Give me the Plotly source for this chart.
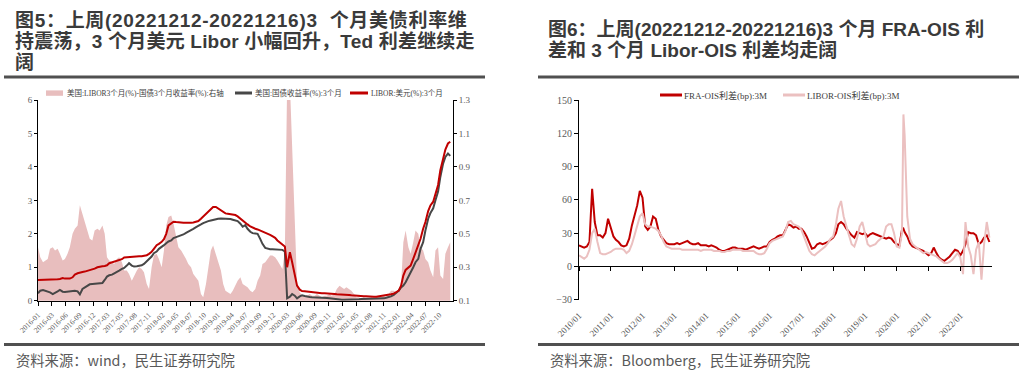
import plotly.graph_objects as go
import pandas as pd

W, H = 1027, 375

# ---------------- Chart 1 data (semi-monthly, 2016-01 .. 2022-12) ----------------
dates1 = pd.date_range("2016-01-01", periods=168, freq="SMS")

spread_ted = [
    0.42, 0.36, 0.33, 0.34, 0.35, 0.41, 0.42, 0.40, 0.41, 0.38, 0.34, 0.35,
    0.38, 0.42, 0.50, 0.53, 0.55, 0.67, 0.62, 0.58, 0.52, 0.47, 0.46, 0.52,
    0.53, 0.52, 0.55, 0.50, 0.36, 0.34, 0.33, 0.32, 0.35, 0.36, 0.33, 0.28,
    0.28, 0.26, 0.22, 0.25, 0.28, 0.30, 0.29, 0.27, 0.20, 0.17, 0.30, 0.37,
    0.38, 0.35, 0.30, 0.40, 0.55, 0.60, 0.61, 0.56, 0.48, 0.42, 0.40, 0.38,
    0.35, 0.32, 0.30, 0.26, 0.24, 0.22, 0.14, 0.12, 0.20, 0.30, 0.40, 0.43,
    0.38, 0.33, 0.28, 0.20, 0.16, 0.15, 0.14, 0.16, 0.19, 0.22, 0.24, 0.20,
    0.19, 0.18, 0.16, 0.15, 0.17, 0.22, 0.25, 0.32, 0.33, 0.35, 0.37, 0.37,
    0.36, 0.34, 0.31, 0.29, 0.40, 1.40, 1.40, 1.00, 0.55, 0.20, 0.15, 0.13,
    0.13, 0.13, 0.14, 0.13, 0.13, 0.14, 0.13, 0.12, 0.13, 0.13, 0.14, 0.13,
    0.14, 0.17, 0.19, 0.18, 0.17, 0.18, 0.17, 0.16, 0.14, 0.12, 0.12, 0.11,
    0.12, 0.11, 0.11, 0.12, 0.11, 0.12, 0.12, 0.12, 0.13, 0.12, 0.14, 0.16,
    0.16, 0.15, 0.17, 0.19, 0.45, 0.52, 0.42, 0.38, 0.45, 0.52, 0.50, 0.42,
    0.40, 0.35, 0.33, 0.28, 0.24, 0.40, 0.42, 0.25, 0.23, 0.38, 0.42, 0.45,
]

tbill_3m = [
    0.22, 0.30, 0.32, 0.30, 0.27, 0.25, 0.20, 0.23, 0.28, 0.32, 0.27, 0.26,
    0.27, 0.30, 0.29, 0.30, 0.28, 0.19, 0.35, 0.40, 0.45, 0.49, 0.50, 0.51,
    0.52, 0.52, 0.53, 0.62, 0.72, 0.76, 0.78, 0.82, 0.85, 0.90, 0.95, 0.98,
    1.05, 1.12, 1.05, 1.02, 1.03, 1.04, 1.06, 1.10, 1.18, 1.27, 1.32, 1.42,
    1.47, 1.55, 1.60, 1.66, 1.72, 1.77, 1.80, 1.87, 1.90, 1.92, 1.94, 1.98,
    2.03, 2.06, 2.10, 2.15, 2.20, 2.25, 2.28, 2.32, 2.36, 2.38, 2.40, 2.42,
    2.43, 2.45, 2.46, 2.46, 2.45, 2.44, 2.44, 2.42, 2.40, 2.38, 2.30, 2.21,
    2.26, 2.15, 2.06, 2.02, 2.01, 2.00, 1.85, 1.70, 1.58, 1.55, 1.54, 1.54,
    1.54, 1.54, 1.54, 1.52, 1.47, 0.07, 0.12, 0.20, 0.15, 0.07, 0.13, 0.16,
    0.14, 0.12, 0.11, 0.10, 0.10, 0.10, 0.09, 0.09, 0.08, 0.08, 0.07, 0.06,
    0.05, 0.05, 0.04, 0.03, 0.03, 0.03, 0.02, 0.03, 0.03, 0.04, 0.04, 0.05,
    0.05, 0.05, 0.05, 0.05, 0.05, 0.05, 0.05, 0.06, 0.07, 0.09, 0.10, 0.13,
    0.17, 0.22, 0.30, 0.40, 0.45, 0.55, 0.70, 0.82, 1.00, 1.15, 1.25, 1.55,
    1.75, 2.10, 2.45, 2.62, 2.76, 3.00, 3.26, 3.70, 4.10, 4.30, 4.40, 4.33,
]

libor_3m = [
    0.62, 0.62, 0.62, 0.63, 0.63, 0.63, 0.63, 0.64, 0.64, 0.65, 0.68, 0.66,
    0.65, 0.66, 0.70, 0.78, 0.82, 0.85, 0.86, 0.87, 0.89, 0.91, 0.93, 0.96,
    1.00, 1.02, 1.03, 1.04, 1.06, 1.12, 1.15, 1.17, 1.19, 1.21, 1.24, 1.29,
    1.30, 1.31, 1.31, 1.31, 1.32, 1.33, 1.33, 1.34, 1.36, 1.40, 1.46, 1.55,
    1.66, 1.70, 1.76, 1.84, 2.00, 2.25, 2.32, 2.36, 2.35, 2.34, 2.33, 2.33,
    2.33, 2.32, 2.33, 2.34, 2.35, 2.38, 2.45, 2.52, 2.58, 2.66, 2.74, 2.80,
    2.80, 2.76, 2.70, 2.65, 2.61, 2.60, 2.59, 2.58, 2.56, 2.52, 2.45, 2.38,
    2.32, 2.28, 2.22, 2.18, 2.15, 2.13, 2.10, 2.08, 2.05, 2.01, 1.97, 1.93,
    1.88, 1.80, 1.74, 1.70, 1.62, 1.00, 1.45, 1.15, 0.75, 0.45, 0.33, 0.29,
    0.28, 0.27, 0.26, 0.25, 0.25, 0.24, 0.23, 0.22, 0.22, 0.22, 0.21, 0.21,
    0.20, 0.19, 0.19, 0.19, 0.18, 0.18, 0.17, 0.16, 0.15, 0.15, 0.14, 0.13,
    0.13, 0.13, 0.12, 0.12, 0.12, 0.12, 0.13, 0.14, 0.14, 0.16, 0.17, 0.19,
    0.21, 0.24, 0.30, 0.45, 0.75, 0.92, 0.98, 1.05, 1.25, 1.45, 1.65, 1.85,
    2.15, 2.35, 2.68, 2.85, 2.96, 3.20, 3.46, 3.90, 4.30, 4.52, 4.70, 4.75,
]

x1_ticktext = [
    "2016-01", "2016-03", "2016-06", "2016-09", "2016-12", "2017-03", "2017-05",
    "2017-08", "2017-11", "2018-02", "2018-05", "2018-07", "2018-10", "2019-01",
    "2019-04", "2019-07", "2019-09", "2019-12", "2020-03", "2020-06", "2020-09",
    "2020-11", "2021-02", "2021-05", "2021-08", "2021-11", "2022-01", "2022-04",
    "2022-07", "2022-10",
]

# ---------------- Chart 2 data (monthly, 2010-01 .. 2022-12) ----------------
dates2 = list(pd.date_range("2010-01-01", "2022-12-01", freq="MS"))

fra_ois = [
    19, 18, 17, 18, 22, 70, 40, 28, 28, 26, 30, 43,
    35, 27, 24, 22, 19, 18, 19, 25, 37, 45, 55, 68,
    62, 36, 33, 36, 45, 43, 33, 27, 24, 21, 20, 20,
    20, 21, 20, 21, 22, 23, 21, 20, 20, 21, 19, 19,
    19, 18, 19, 18, 17, 15, 14, 14, 15, 16, 17, 17,
    16, 16, 16, 15, 16, 17, 18, 17, 16, 17, 18, 18,
    22, 24, 25, 27, 28, 28, 33, 38, 37, 35, 36, 34,
    34, 31, 27, 21, 16, 17, 20, 21, 20, 21, 22, 24,
    26, 30, 38, 40, 38, 34, 31, 28, 26, 31, 30, 29,
    30, 27, 29, 30, 29, 28, 27, 26, 25, 26, 25, 22,
    20, 19, 33, 31, 27, 21, 18, 17, 16, 15, 14, 12,
    10, 12, 17, 12, 8, 6, 5, 7, 9, 12, 15, 14,
    10, 14, 20, 31, 30, 30, 28, 20, 22, 26, 28, 22,
]

libor_ois = [
    10, 8, 7, 9, 15, 30, 34, 22, 12, 11, 11, 12,
    13, 15, 16, 16, 16, 15, 12, 14, 20, 28, 36, 45,
    48, 38, 36, 36, 35, 34, 32, 28, 22, 18, 17, 16,
    16, 16, 16, 15, 15, 15, 15, 15, 15, 15, 14, 15,
    15, 15, 15, 14, 14, 14, 13, 13, 14, 14, 15, 15,
    15, 15, 14, 14, 14, 14, 14, 12, 11, 11, 12, 16,
    21, 23, 24, 25, 26, 27, 32, 40, 41, 38, 37, 36,
    33, 26, 20, 14, 11, 10, 12, 14, 16, 18, 21, 25,
    27, 38, 52, 59, 45, 35, 28, 20, 18, 25, 36, 40,
    30, 20, 18, 19, 20, 23, 25, 27, 36, 38, 38, 30,
    18, 17, 30, 118, 45, 25, 20, 18, 16, 14, 12, 13,
    12, 11, 10, 9, 7, 5, 3, 3, 4, 6, 9, 12,
    8, -7, 40, 18, 10, -7, 15, 22, -12, 20, 40, 26,
]

# extra reading at the March-2020 peak
extra_dates = [pd.Timestamp("2020-03-18")]
fra_extra = [34]
libor_ois_extra = [137]

x2_tickvals = [f"{y}-01-01" for y in range(2010, 2023)]
x2_ticktext = [f"{y}/01" for y in range(2010, 2023)]

df2 = pd.DataFrame({
    "date": dates2 + extra_dates,
    "fra": fra_ois + fra_extra,
    "lo": libor_ois + libor_ois_extra,
}).sort_values("date")

# ---------------- styling ----------------
SERIF = "Liberation Serif, Noto Sans CJK SC"
SANS = "Noto Sans CJK SC"
TITLE_FONT = "Liberation Sans, Noto Sans CJK SC"
TXT = "#404040"
AX = "#595959"
RED = "#C00000"
GREY = "#474747"
PINK_FILL = "#E8BEBE"
PINK_LINE = "#EBC0C0"

L_x = [38 / W, 453 / W]
L_y = [1 - 300.7 / H, 1 - 100 / H]
R_x = [579 / W, 992 / W]
R_y = [1 - 299.7 / H, 1 - 100 / H]

x1_start = pd.Timestamp("2016-01-01")
x1_end = pd.Timestamp("2023-01-01")
x1_tickvals = [x1_start + (x1_end - x1_start) * i / 30 for i in range(30)]

y2_range = [-30, 150]
zero_pos = R_y[0] + (0 - y2_range[0]) / (y2_range[1] - y2_range[0]) * (R_y[1] - R_y[0])

name_spread = "美国:LIBOR3个月(%)-国债3个月收益率(%):右轴"
name_tbill = "美国:国债收益率(%):3个月"
name_libor = "LIBOR:美元(%):3个月"
name_fra = "FRA-OIS利差(bp):3M"
name_lo = "LIBOR-OIS利差(bp):3M"

fig = go.Figure()

fig.add_trace(go.Scatter(
    x=dates1, y=spread_ted, mode="lines", fill="tozeroy", fillcolor=PINK_FILL,
    line=dict(width=0, color=PINK_FILL), name=name_spread, xaxis="x", yaxis="y",
))
fig.add_trace(go.Scatter(
    x=dates1, y=tbill_3m, mode="lines", line=dict(color=GREY, width=2),
    name=name_tbill, xaxis="x", yaxis="y2",
))
fig.add_trace(go.Scatter(
    x=dates1, y=libor_3m, mode="lines", line=dict(color=RED, width=2),
    name=name_libor, xaxis="x", yaxis="y2",
))
fig.add_trace(go.Scatter(
    x=df2["date"], y=df2["fra"], mode="lines", line=dict(color=RED, width=2),
    name=name_fra, xaxis="x2", yaxis="y3",
))
fig.add_trace(go.Scatter(
    x=df2["date"], y=df2["lo"], mode="lines", line=dict(color=PINK_LINE, width=2),
    name=name_lo, xaxis="x2", yaxis="y3",
))
fig.add_trace(go.Scatter(x=[], y=[], xaxis="x3", yaxis="y3", showlegend=False))

tickfont1 = dict(family=SERIF, size=9, color=AX)
common = dict(showgrid=False, zeroline=False, automargin=False)

fig.update_layout(
    template="none",
    width=W, height=H, margin=dict(l=0, r=0, t=0, b=0, pad=0, autoexpand=False),
    paper_bgcolor="white", plot_bgcolor="rgba(0,0,0,0)",
    showlegend=False, hovermode=False,
    xaxis=dict(
        domain=L_x, anchor="y", range=[x1_start, x1_end], type="date",
        tickvals=x1_tickvals, ticktext=x1_ticktext, tickangle=-45,
        tickfont=dict(family=SERIF, size=7.5, color=AX),
        ticks="outside", ticklen=4, tickcolor="black", showline=True,
        linecolor="black", linewidth=1, ticklabelstandoff=2, **common,
    ),
    yaxis=dict(
        domain=L_y, anchor="x", side="right", range=[0.1, 1.3],
        tickvals=[0.1, 0.3, 0.5, 0.7, 0.9, 1.1, 1.3], tickformat=".1f",
        tickfont=tickfont1, ticks="outside", ticklen=3, tickcolor="black",
        showline=True, linecolor="black", linewidth=1, **common,
    ),
    yaxis2=dict(
        overlaying="y", anchor="x", side="left", range=[0, 6], dtick=1,
        tickfont=tickfont1, ticks="outside", ticklen=3, tickcolor="black",
        showline=True, linecolor="black", linewidth=1, **common,
    ),
    xaxis2=dict(
        domain=R_x, anchor="y3", range=["2010-01-01", "2022-12-31"], type="date",
        tickvals=x2_tickvals, ticktext=x2_ticktext, tickangle=-45,
        tickfont=dict(family=SERIF, size=9, color=AX),
        ticks="", showline=False, ticklabelstandoff=8, **common,
    ),
    xaxis3=dict(
        overlaying="x2", anchor="free", position=zero_pos,
        range=["2010-01-01", "2022-12-31"], type="date",
        tickvals=x2_tickvals, showticklabels=False,
        ticks="outside", ticklen=4, tickcolor="black", showline=True,
        linecolor="black", linewidth=1, **common,
    ),
    yaxis3=dict(
        domain=R_y, anchor="x2", range=y2_range, dtick=30,
        tickfont=dict(family=SERIF, size=10, color=AX),
        ticks="outside", ticklen=4, tickcolor="black",
        showline=True, linecolor="black", linewidth=1, **common,
    ),
)

annotations = []
shapes = []

def ptext(text, x, y, size, family, color, weight="normal"):
    annotations.append(dict(
        text=text, x=x / W, y=1 - y / H, xref="paper", yref="paper",
        xanchor="left", yanchor="middle", showarrow=False, borderpad=0,
        font=dict(family=family, size=size, color=color, weight=weight)))

# titles
TS = 19
TC = "#3A3A3A"
ptext('<span style="letter-spacing:0.7px">图5：上周(20221212-20221216)3 \u00a0个月美债利率维</span>',
      14, 20, TS, TITLE_FONT, TC, "bold")
ptext('<span style="letter-spacing:0.2px">持震荡，3 个月美元 Libor 小幅回升，Ted 利差继续走</span>',
      14, 41.2, TS, TITLE_FONT, TC, "bold")
ptext("阔", 14, 62.4, TS, TITLE_FONT, TC, "bold")
ptext("图6：上周(20221212-20221216)3 个月 FRA-OIS 利", 547, 29.3, TS, TITLE_FONT, TC, "bold")
ptext("差和 3 个月 Libor-OIS 利差均走阔", 547, 50.5, TS, TITLE_FONT, TC, "bold")

# sources
ptext("资料来源：wind，民生证券研究院", 15, 359, 14.3, SANS, "#595959")
ptext("资料来源：Bloomberg，民生证券研究院", 549, 359, 14.3, SANS, "#595959")

# rules
for x0, x1 in [(4, 485), (538, 1019)]:
    for yy in (77, 344.5):
        shapes.append(dict(type="line", xref="paper", yref="paper",
                           x0=x0 / W, x1=x1 / W, y0=1 - yy / H, y1=1 - yy / H,
                           line=dict(color="#505050", width=3)))

# legend keys
def key_line(x0, x1, y, color):
    shapes.append(dict(type="line", xref="paper", yref="paper",
                       x0=x0 / W, x1=x1 / W, y0=1 - y / H, y1=1 - y / H,
                       line=dict(color=color, width=3)))

shapes.append(dict(type="rect", xref="paper", yref="paper",
                   x0=46 / W, x1=63 / W, y0=1 - 95.8 / H, y1=1 - 90.4 / H,
                   fillcolor=PINK_FILL, line=dict(width=0)))
ptext(name_spread, 65.5, 93, 7.5, SERIF, TXT)
key_line(235, 252, 93, GREY)
ptext(name_tbill, 253.5, 93, 7.5, SERIF, TXT)
key_line(350, 368, 93, RED)
ptext(name_libor, 369.5, 93, 7.5, SERIF, TXT)

key_line(660, 682, 95, RED)
ptext(name_fra, 682.5, 95, 9, SERIF, TXT)
key_line(783, 805, 95, PINK_LINE)
ptext(name_lo, 805.5, 95, 9, SERIF, TXT)

fig.update_layout(annotations=annotations, shapes=shapes)

fig.write_html(
    "out.html",
    config={"displayModeBar": False, "staticPlot": True},
    post_script="document.body.style.margin='0px';document.body.style.padding='0px';"
                "document.body.style.overflow='hidden';",
)
